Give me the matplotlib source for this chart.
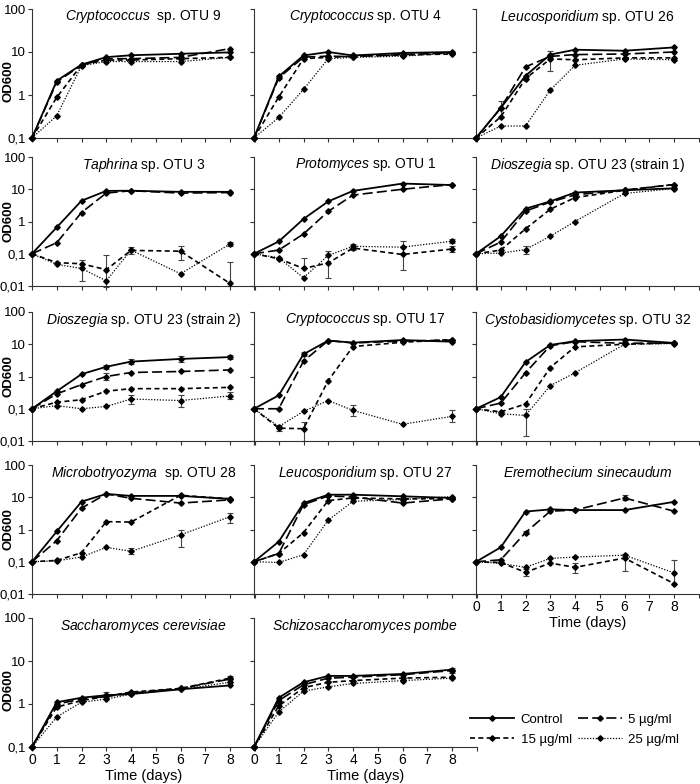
import matplotlib
matplotlib.use('Agg')
import matplotlib.pyplot as plt
from matplotlib.lines import Line2D

plt.rcParams['font.family'] = ['Liberation Sans', 'DejaVu Sans']
plt.rcParams['mathtext.fontset'] = 'custom'
plt.rcParams['mathtext.rm'] = 'Liberation Sans'
plt.rcParams['mathtext.it'] = 'Liberation Sans:italic'

days = [0, 1, 2, 3, 4, 6, 8]
doses = ['Control', '5 µg/ml', '15 µg/ml', '25 µg/ml']

# OD600 rows: control, 5, 15, 25 ug/ml
otu9 = [[0.1, 2.15, 5.1, 7.6, 8.4, 9.1, 9.8],
        [0.1, 2.0, 5.0, 7.0, 7.0, 7.5, 12.0],
        [0.1, 0.88, 5.0, 6.5, 6.5, 7.0, 7.5],
        [0.1, 0.33, 4.8, 6.0, 6.0, 6.0, 7.5]]
otu4 = [[0.1, 2.7, 8.3, 10.0, 8.3, 9.5, 10.0],
        [0.1, 2.5, 7.6, 8.0, 7.8, 8.7, 9.5],
        [0.1, 0.9, 7.0, 7.5, 8.0, 8.5, 9.0],
        [0.1, 0.3, 1.35, 7.0, 7.5, 8.0, 9.5]]
otu26 = [[0.1, 0.5, 2.8, 8.7, 11.3, 10.7, 12.8],
         [0.1, 0.5, 4.5, 7.9, 8.7, 9.0, 10.0],
         [0.1, 0.31, 2.4, 6.9, 6.6, 7.3, 7.3],
         [0.1, 0.19, 0.19, 1.3, 4.9, 6.9, 6.6]]
otu3 = [[0.1, 0.66, 4.4, 8.9, 9.0, 8.3, 8.3],
        [0.1, 0.22, 1.9, 7.6, 9.0, 7.6, 7.9],
        [0.1, 0.053, 0.049, 0.032, 0.127, 0.12, 0.012],
        [0.1, 0.047, 0.035, 0.0145, 0.13, 0.024, 0.2]]
otu1 = [[0.1, 0.24, 1.2, 4.2, 8.9, 15.0, 13.5],
        [0.1, 0.13, 0.41, 2.06, 6.6, 10.0, 14.0],
        [0.1, 0.07, 0.035, 0.052, 0.15, 0.095, 0.14],
        [0.1, 0.075, 0.018, 0.089, 0.17, 0.16, 0.245]]
otu23a = [[0.1, 0.35, 2.5, 4.2, 7.9, 9.3, 10.7],
          [0.1, 0.23, 2.1, 4.0, 6.7, 9.5, 14.0],
          [0.1, 0.13, 0.59, 2.4, 5.5, 9.3, 14.0],
          [0.1, 0.105, 0.135, 0.35, 1.0, 7.4, 10.5]]
otu23b = [[0.1, 0.35, 1.18, 2.0, 2.9, 3.5, 4.0],
          [0.1, 0.29, 0.56, 1.0, 1.33, 1.43, 1.6],
          [0.1, 0.16, 0.19, 0.35, 0.42, 0.42, 0.46],
          [0.1, 0.125, 0.1, 0.118, 0.2, 0.18, 0.25]]
otu17 = [[0.1, 0.26, 4.9, 13.0, 11.2, 13.5, 12.0],
         [0.1, 0.1, 3.0, 13.0, 11.0, 12.5, 13.5],
         [0.1, 0.025, 0.024, 0.75, 8.5, 11.5, 14.0],
         [0.1, 0.028, 0.083, 0.18, 0.089, 0.033, 0.058]]
otu32 = [[0.1, 0.23, 2.8, 9.5, 12.5, 14.0, 11.0],
         [0.1, 0.15, 1.3, 9.0, 12.0, 10.7, 11.0],
         [0.1, 0.08, 0.14, 1.9, 8.3, 10.0, 11.0],
         [0.1, 0.07, 0.062, 0.52, 1.3, 10.0, 10.5]]
otu28 = [[0.1, 0.87, 7.3, 12.7, 11.0, 11.0, 8.9],
         [0.1, 0.45, 4.6, 12.6, 9.3, 6.6, 8.3],
         [0.1, 0.11, 0.19, 1.75, 1.7, 11.5, 8.9],
         [0.1, 0.107, 0.14, 0.28, 0.21, 0.68, 2.5]]
otu27 = [[0.1, 0.42, 6.6, 12.0, 12.0, 10.7, 9.5],
         [0.1, 0.18, 5.9, 11.0, 10.2, 6.6, 8.9],
         [0.1, 0.18, 0.8, 7.9, 9.5, 8.9, 9.0],
         [0.1, 0.095, 0.165, 1.95, 7.5, 8.5, 10.5]]
eremo = [[0.1, 0.28, 3.6, 4.2, 4.0, 4.0, 7.2],
         [0.1, 0.115, 0.8, 3.7, 4.0, 9.5, 3.7],
         [0.1, 0.095, 0.047, 0.091, 0.067, 0.13, 0.021],
         [0.1, 0.089, 0.067, 0.127, 0.14, 0.16, 0.045]]
scer = [[0.1, 1.1, 1.4, 1.6, 1.7, 2.2, 2.7],
        [0.1, 1.0, 1.3, 1.5, 1.8, 2.3, 3.8],
        [0.1, 0.85, 1.2, 1.5, 1.9, 2.3, 4.0],
        [0.1, 0.5, 1.1, 1.3, 1.7, 2.2, 3.2]]
spom = [[0.1, 1.4, 3.2, 4.5, 4.5, 5.0, 6.3],
        [0.1, 1.2, 2.8, 4.0, 4.2, 4.8, 6.0],
        [0.1, 0.9, 2.4, 3.2, 3.5, 4.0, 4.2],
        [0.1, 0.65, 2.0, 2.5, 3.0, 3.5, 4.0]]

# visible error bars: (dose index, time index, low, high)
err_otu26 = [(0, 1, 0.31, 0.74), (0, 3, 3.7, 10.7)]
err_otu3 = [(2, 3, 0.009, 0.09), (3, 2, 0.014, 0.062), (2, 4, 0.1, 0.16),
            (2, 5, 0.062, 0.17), (2, 6, 0.01, 0.055), (3, 6, 0.17, 0.23)]
err_otu1 = [(2, 2, 0.035, 0.075), (3, 3, 0.018, 0.118), (2, 5, 0.032, 0.24),
            (3, 4, 0.13, 0.2), (2, 6, 0.11, 0.18), (3, 6, 0.21, 0.28)]
err_otu23a = [(3, 2, 0.1, 0.17)]
err_otu23b = [(0, 3, 1.7, 2.3), (0, 4, 2.4, 3.4), (0, 5, 2.9, 4.2), (0, 6, 3.4, 4.7),
              (1, 3, 0.8, 1.3), (3, 4, 0.14, 0.27), (3, 5, 0.11, 0.26), (3, 6, 0.2, 0.32)]
err_otu17 = [(2, 2, 0.01, 0.038), (3, 4, 0.06, 0.13), (3, 6, 0.04, 0.09),
             (2, 1, 0.02, 0.032), (0, 2, 4.2, 5.8)]
err_otu32 = [(3, 2, 0.014, 0.1)]
err_otu28 = [(3, 4, 0.17, 0.26), (3, 5, 0.28, 1.0), (3, 6, 1.6, 3.2)]
err_eremo = [(2, 2, 0.035, 0.06), (2, 4, 0.045, 0.09), (2, 5, 0.05, 0.17),
             (3, 6, 0.02, 0.11), (1, 5, 8.0, 11.5), (1, 2, 0.7, 0.9)]
err_scer = [(1, 6, 3.2, 4.5), (0, 3, 1.3, 1.9)]
err_spom = [(0, 6, 5.4, 7.0), (1, 3, 3.5, 4.6)]

# title, data, errors, row, col, ymin
panels = [
    (r'$\it{Cryptococcus}$  sp. OTU 9', otu9, [], 0, 0, 0.1),
    (r'$\it{Cryptococcus}$ sp. OTU 4', otu4, [], 0, 1, 0.1),
    (r'$\it{Leucosporidium}$ sp. OTU 26', otu26, err_otu26, 0, 2, 0.1),
    (r'$\it{Taphrina}$ sp. OTU 3', otu3, err_otu3, 1, 0, 0.01),
    (r'$\it{Protomyces}$ sp. OTU 1', otu1, err_otu1, 1, 1, 0.01),
    (r'$\it{Dioszegia}$ sp. OTU 23 (strain 1)', otu23a, err_otu23a, 1, 2, 0.01),
    (r'$\it{Dioszegia}$ sp. OTU 23 (strain 2)', otu23b, err_otu23b, 2, 0, 0.01),
    (r'$\it{Cryptococcus}$ sp. OTU 17', otu17, err_otu17, 2, 1, 0.01),
    (r'$\it{Cystobasidiomycetes}$ sp. OTU 32', otu32, err_otu32, 2, 2, 0.01),
    (r'$\it{Microbotryozyma}$  sp. OTU 28', otu28, err_otu28, 3, 0, 0.01),
    (r'$\it{Leucosporidium}$ sp. OTU 27', otu27, [], 3, 1, 0.01),
    (r'$\it{Eremothecium\ sinecaudum}$', eremo, err_eremo, 3, 2, 0.01),
    (r'$\it{Saccharomyces\ cerevisiae}$', scer, err_scer, 4, 0, 0.1),
    (r'$\it{Schizosaccharomyces\ pombe}$', spom, err_spom, 4, 1, 0.1),
]

styles = [dict(linestyle='-', lw=1.3),
          dict(linestyle=(0, (6, 2.5)), lw=1.2),
          dict(linestyle=(0, (3, 2)), lw=1.2),
          dict(linestyle=(0, (1, 1.3)), lw=0.9)]

ytick_text = {100: '100', 10: '10', 1: '1', 0.1: '0,1', 0.01: '0,01'}

W, H = 700, 784
fig = plt.figure(figsize=(7, 7.84), dpi=100)

col_left = [32, 254, 476]
row_top = [9, 157, 312, 465, 618]
ax_w, ax_h = 222.75, 129

for title, data, errs, r, c, ymin in panels:
    x0 = col_left[c] / W
    y0 = 1 - (row_top[r] + ax_h) / H
    ax = fig.add_axes([x0, y0, ax_w / W, ax_h / H])
    for k in range(4):
        ax.plot(days, data[k], color='k', marker='D', ms=2.8, clip_on=False,
                zorder=3, **styles[k])
    for k, i, lo, hi in errs:
        y = data[k][i]
        ax.errorbar(days[i], y, yerr=[[y - lo], [hi - y]], fmt='none',
                    ecolor='#444444', elinewidth=0.8, capsize=2.5, capthick=0.8,
                    clip_on=False)
    ax.set_yscale('log')
    ax.minorticks_off()
    ax.set_ylim(ymin, 100)
    ax.set_xlim(0, 9)
    ticks = [t for t in [0.01, 0.1, 1, 10, 100] if t >= ymin]
    ax.set_yticks(ticks)
    for s in ['top', 'right']:
        ax.spines[s].set_visible(False)
    for s in ['left', 'bottom']:
        ax.spines[s].set_linewidth(0.8)
        ax.spines[s].set_color('#333333')
    ax.tick_params(direction='out', length=3, width=0.8, color='#333333',
                   labelsize=9.5, pad=1.5)
    ax.set_xticks(range(10))
    if c == 0:
        ax.set_yticklabels([ytick_text[t] for t in ticks])
        ax.set_ylabel('OD600', fontweight='bold', fontsize=9.5)
        ax.yaxis.set_label_coords(-0.08, 0.44 if ymin == 0.1 else 0.5)
    else:
        ax.set_yticklabels([])
    if (r == 4) or (r == 3 and c == 2):
        ax.set_xticklabels([str(d) for d in range(9)] + [''], fontsize=10)
        ax.set_xlabel('Time (days)', fontsize=10.5, labelpad=1)
    else:
        ax.set_xticklabels([])
    ax.text(0.5, 0.94, title, transform=ax.transAxes, ha='center', va='center',
            fontsize=10)

handles = [Line2D([], [], color='k', marker='D', ms=2.8, **styles[k]) for k in range(4)]
order = [0, 2, 1, 3]
fig.legend([handles[i] for i in order], [doses[i] for i in order],
           loc='center left', bbox_to_anchor=(0.672, 0.0695), ncol=2,
           frameon=False, handlelength=3.3, columnspacing=0.5, handletextpad=0.5,
           labelspacing=0.6, borderpad=0, borderaxespad=0, fontsize=9.5)

fig.savefig('out.png', dpi=100)
